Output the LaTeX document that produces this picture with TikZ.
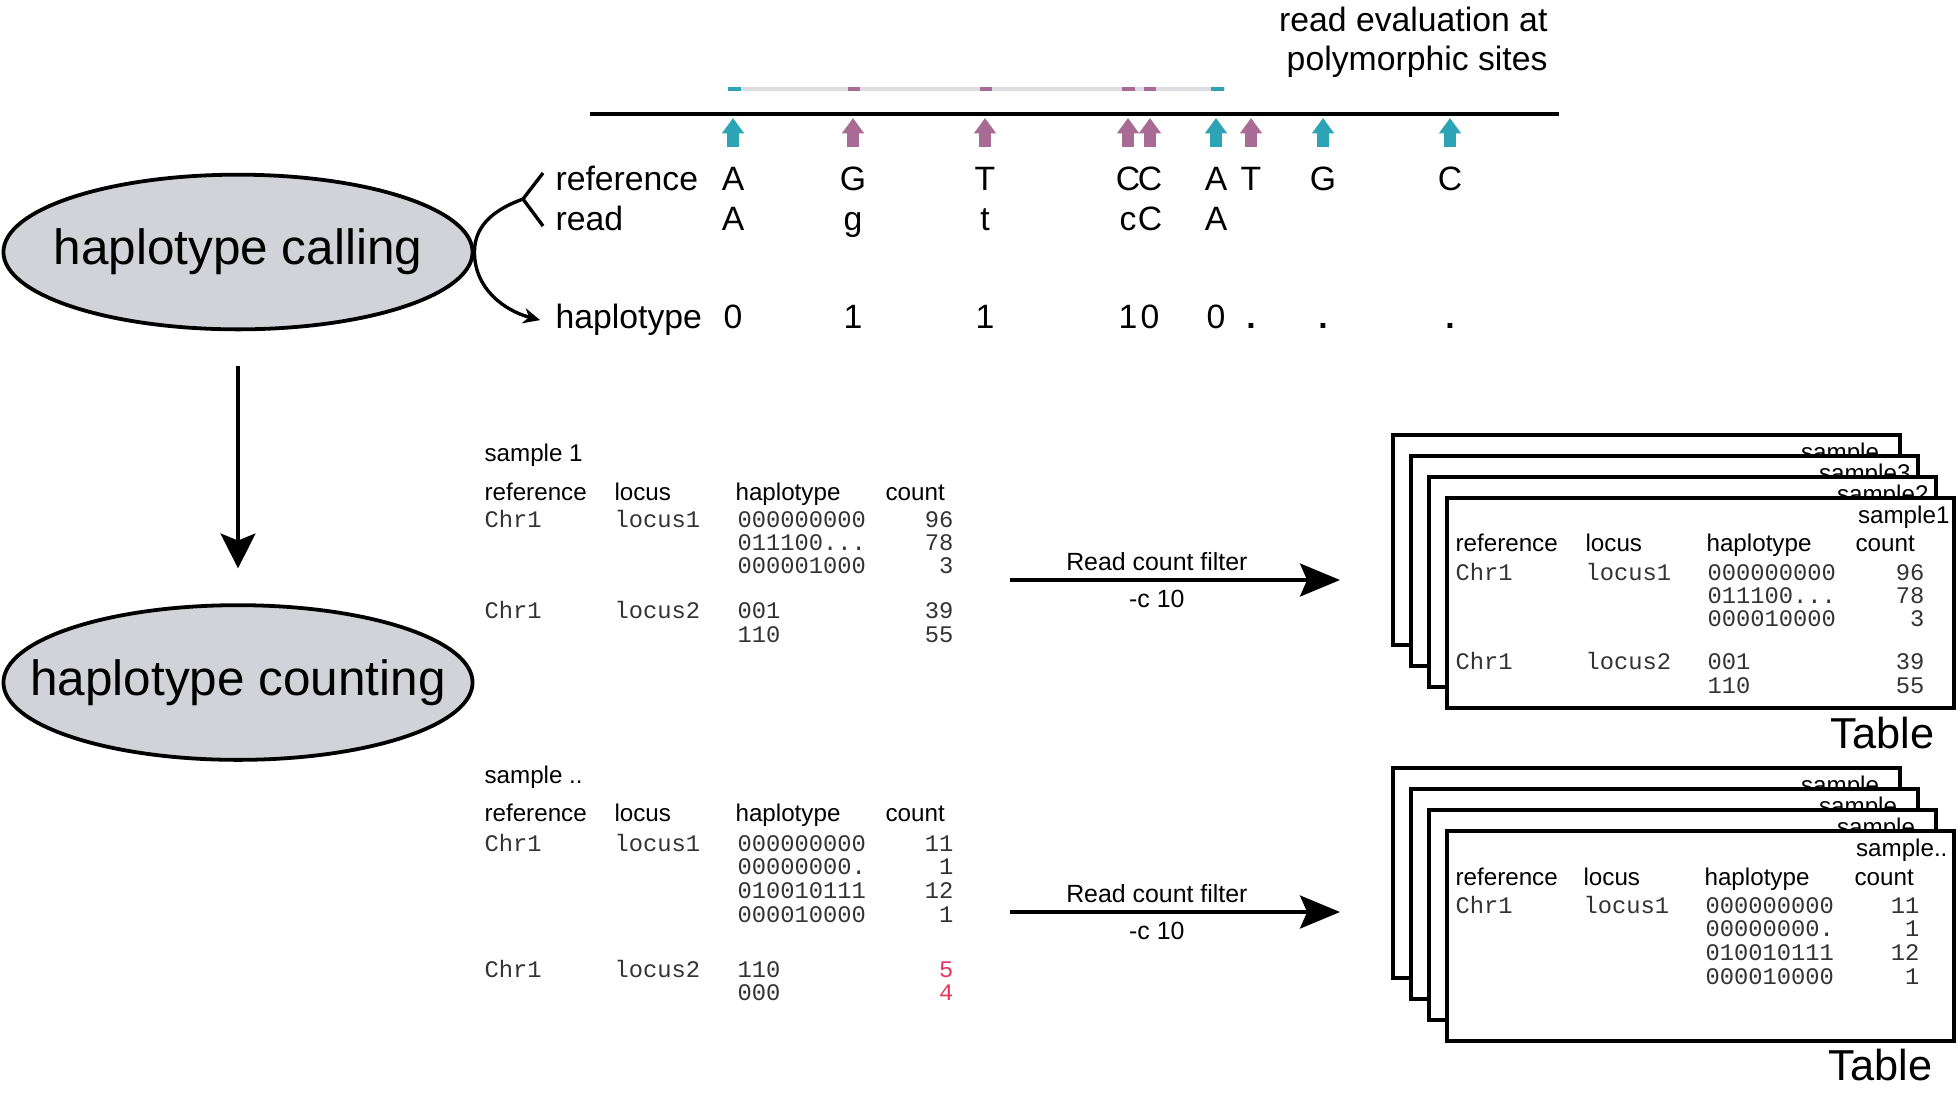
\documentclass[tikz,border=0pt]{standalone}
\usepackage{fontspec}
\setmainfont{Liberation Sans}
\setmonofont{Liberation Mono}
\usepackage{xcolor}
\usepackage{tikz}
\usetikzlibrary{arrows.meta,positioning,shapes.geometric}
\definecolor{ovalc}{HTML}{D2D3D8}
\definecolor{tealc}{HTML}{2DA3B6}
\definecolor{mauvec}{HTML}{A86C94}
\definecolor{readc}{HTML}{DCDBE2}
\definecolor{lowc}{HTML}{E8355E}
\tikzset{
  stepnode/.style={ellipse, draw=black, fill=ovalc, line width=1.35pt, inner sep=0pt,
    minimum width=166.8pt, minimum height=55pt},
  steptext/.style={inner sep=0pt, font=\fontsize{17.6}{20}\selectfont},
  rowlabel/.style={inner sep=0pt, anchor=base west, font=\fontsize{12}{14}\selectfont},
  basetext/.style={inner sep=0pt, anchor=base, font=\fontsize{12}{14}\selectfont},
  headtext/.style={inner sep=0pt, anchor=base west, font=\fontsize{8.6}{10}\selectfont},
  tagtext/.style={inner sep=0pt, anchor=base east, font=\fontsize{8.6}{10}\selectfont},
  monocol/.style={inner sep=0pt, anchor=base west, text width=50pt, align=left,
    text=black!80, font=\fontsize{8.45}{8.33}\selectfont\ttfamily},
  countcol/.style={monocol, anchor=base east, text width=30pt, align=right},
  sheetnode/.style={rectangle, draw=black, fill=white, line width=1.4pt, inner sep=0pt,
    minimum width=180.3pt, minimum height=74.4pt},
  bigtext/.style={inner sep=0pt, anchor=base east, font=\fontsize{15.4}{18}\selectfont},
  filtertext/.style={inner sep=0pt, font=\fontsize{8.85}{10}\selectfont},
  sitearrow/.style={-{Triangle[length=5.5pt, width=7.6pt]}, line width=4pt},
  flowedge/.style={-{Stealth[length=12.4pt, width=12.4pt, inset=2.5pt]}, line width=1.3pt},
  filteredge/.style={-{Stealth[length=14.2pt, width=11.7pt, inset=2.5pt]}, line width=1.4pt},
  forkedge/.style={line width=1.2pt},
  bendedge/.style={-{Stealth[length=6pt, width=5.5pt]}, line width=1.2pt},
}
\begin{document}
\begin{tikzpicture}[x=0.0125cm, y=-0.0125cm]
  \useasboundingbox (0,0) rectangle (1960,1098);

  % steps
  \node[stepnode, label={[steptext]center:haplotype calling}] (calling) at (238,252) {};
  \node[stepnode, label={[steptext]center:haplotype counting}] (counting) at (238,682.5) {};
  \draw[flowedge] ([yshift=-12.2pt]calling.south) -- ([yshift=12.4pt]counting.north);

  % read evaluation
  \node[inner sep=0pt, anchor=base east, align=right, font=\fontsize{12}{13.8}\selectfont]
    (evaltitle) at (1548,70) {read evaluation at\\polymorphic sites};
  \draw[line width=1.5pt] (590,114) -- (1559,114);
  \draw[readc, line width=1.4pt] (729,89) -- (1225,89);
  \draw[tealc, line width=1.4pt] (728,89) -- (741,89);
  \draw[mauvec, line width=1.4pt] (848,89) -- (860,89);
  \draw[mauvec, line width=1.4pt] (980,89) -- (992,89);
  \draw[mauvec, line width=1.4pt] (1122,89) -- (1135,89);
  \draw[mauvec, line width=1.4pt] (1144,89) -- (1156,89);
  \draw[tealc, line width=1.4pt] (1211,89) -- (1224,89);

  \draw[sitearrow, tealc] (733,147) -- (733,118);
  \draw[sitearrow, mauvec] (853,147) -- (853,118);
  \draw[sitearrow, mauvec] (985,147) -- (985,118);
  \draw[sitearrow, mauvec] (1128,147) -- (1128,118);
  \draw[sitearrow, mauvec] (1150,147) -- (1150,118);
  \draw[sitearrow, tealc] (1216,147) -- (1216,118);
  \draw[sitearrow, mauvec] (1251,147) -- (1251,118);
  \draw[sitearrow, tealc] (1323,147) -- (1323,118);
  \draw[sitearrow, tealc] (1450,147) -- (1450,118);

  \node[rowlabel] (lref) at (555,190) {reference};
  \node[rowlabel] (lread) at (555,230) {read};
  \node[rowlabel] (lhap) at (555,328) {haplotype};

  \node[basetext] (r1) at (733,190) {A};
  \node[basetext] (r2) at (853,190) {G};
  \node[basetext] (r3) at (985,190) {T};
  \node[basetext] (r4) at (1128,190) {C};
  \node[basetext] (r5) at (1150,190) {C};
  \node[basetext] (r6) at (1216,190) {A};
  \node[basetext] (r7) at (1251,190) {T};
  \node[basetext] (r8) at (1323,190) {G};
  \node[basetext] (r9) at (1450,190) {C};

  \node[basetext] (q1) at (733,230) {A};
  \node[basetext] (q2) at (853,230) {g};
  \node[basetext] (q3) at (985,230) {t};
  \node[basetext] (q4) at (1128,230) {c};
  \node[basetext] (q5) at (1150,230) {C};
  \node[basetext] (q6) at (1216,230) {A};

  \node[basetext] (h1) at (733,328) {0};
  \node[basetext] (h2) at (853,328) {1};
  \node[basetext] (h3) at (985,328) {1};
  \node[basetext] (h4) at (1128,328) {1};
  \node[basetext] (h5) at (1150,328) {0};
  \node[basetext] (h6) at (1216,328) {0};
  \node[basetext] (h7) at (1251,328) {\textbf{.}};
  \node[basetext] (h8) at (1323,328) {\textbf{.}};
  \node[basetext] (h9) at (1450,328) {\textbf{.}};

  \coordinate (fork) at (523,199);
  \coordinate (forkup) at (543,173);
  \coordinate (forkdn) at (543,226);
  \draw[forkedge] (forkup) -- (fork) -- (forkdn);
  \draw[bendedge] (fork) to[out=200, in=90] (calling.east)
    to[out=-90, in=165] ([xshift=-5.3pt, yshift=-0.3pt]lhap.west);

  % counts per sample
  \node[headtext] (m1name) at (484,461) {sample 1};
  \node[headtext] (m1ref) at (484,500) {reference};
  \node[headtext] (m1loc) at (614,500) {locus};
  \node[headtext] (m1hap) at (735,500) {haplotype};
  \node[headtext] (m1cnt) at (885,500) {count};
  \node[monocol] (m1refs) at (484,527) {Chr1\\[24.3pt]Chr1};
  \node[monocol] (m1locs) at (614,527) {locus1\\[24.3pt]locus2};
  \node[monocol] (m1haps) at (737,527) {000000000\\011100...\\000001000\\[7.6pt]001\\110};
  \node[countcol] (m1cnts) at (954,527) {96\\78\\3\\[7.6pt]39\\55};

  \node[headtext] (m2name) at (484,783) {sample ..};
  \node[headtext] (m2ref) at (484,821) {reference};
  \node[headtext] (m2loc) at (614,821) {locus};
  \node[headtext] (m2hap) at (735,821) {haplotype};
  \node[headtext] (m2cnt) at (885,821) {count};
  \node[monocol, font=\fontsize{8.45}{8.5}\selectfont\ttfamily] (m2refs) at (484,851) {Chr1\\[36.5pt]Chr1};
  \node[monocol, font=\fontsize{8.45}{8.5}\selectfont\ttfamily] (m2locs) at (614,851) {locus1\\[36.5pt]locus2};
  \node[monocol, font=\fontsize{8.45}{8.5}\selectfont\ttfamily] (m2haps) at (737,851)
    {000000000\\00000000.\\010010111\\000010000\\[10.8pt]110\\000};
  \node[countcol, font=\fontsize{8.45}{8.5}\selectfont\ttfamily] (m2cnts) at (954,851)
    {11\\1\\12\\1\\[10.8pt]\textcolor{lowc}{5}\\\textcolor{lowc}{4}};

  % filter
  \coordinate (f1s) at (1010,580);
  \coordinate (f1e) at (1340,580);
  \draw[filteredge] (f1s) -- (f1e)
    node[filtertext, pos=0.445, above=2.6pt] {Read count filter}
    node[filtertext, pos=0.445, below=2.8pt] {-c 10};
  \coordinate (f2s) at (1010,912);
  \coordinate (f2e) at (1340,912);
  \draw[filteredge] (f2s) -- (f2e)
    node[filtertext, pos=0.445, above=2.6pt] {Read count filter}
    node[filtertext, pos=0.445, below=2.8pt] {-c 10};

  % tables, first stack
  \node[sheetnode] (u1) at (1646.5,540) {};
  \node[tagtext] (u1tag) at (1893,460) {sample..};
  \node[sheetnode] (u2) at (1664.5,561) {};
  \node[tagtext] (u2tag) at (1911,481) {sample3};
  \node[sheetnode] (u3) at (1682.5,582) {};
  \node[tagtext] (u3tag) at (1929,502) {sample2};
  \node[sheetnode] (u4) at (1700.5,603) {};
  \node[tagtext] (u4tag) at (1950,523) {sample1};
  \node[headtext] (u4ref) at (1455,551) {reference};
  \node[headtext] (u4loc) at (1585,551) {locus};
  \node[headtext] (u4hap) at (1706,551) {haplotype};
  \node[headtext] (u4cnt) at (1855,551) {count};
  \node[monocol] (u4refs) at (1455,580) {Chr1\\[23.6pt]Chr1};
  \node[monocol] (u4locs) at (1585,580) {locus1\\[23.6pt]locus2};
  \node[monocol] (u4haps) at (1707,580) {000000000\\011100...\\000010000\\[6.9pt]001\\110};
  \node[countcol] (u4cnts) at (1925,580) {96\\78\\3\\[6.9pt]39\\55};
  \node[bigtext] (utitle) at (1935,748) {Table};

  % tables, second stack
  \node[sheetnode] (w1) at (1646.5,873) {};
  \node[tagtext] (w1tag) at (1893,793) {sample..};
  \node[sheetnode] (w2) at (1664.5,894) {};
  \node[tagtext] (w2tag) at (1911,814) {sample..};
  \node[sheetnode] (w3) at (1682.5,915) {};
  \node[tagtext] (w3tag) at (1929,835) {sample..};
  \node[sheetnode] (w4) at (1700.5,936) {};
  \node[tagtext] (w4tag) at (1948,856) {sample..};
  \node[headtext] (w4ref) at (1455,885) {reference};
  \node[headtext] (w4loc) at (1583,885) {locus};
  \node[headtext] (w4hap) at (1704,885) {haplotype};
  \node[headtext] (w4cnt) at (1854,885) {count};
  \node[monocol, font=\fontsize{8.45}{8.5}\selectfont\ttfamily] (w4refs) at (1455,913) {Chr1};
  \node[monocol, font=\fontsize{8.45}{8.5}\selectfont\ttfamily] (w4locs) at (1583,913) {locus1};
  \node[monocol, font=\fontsize{8.45}{8.5}\selectfont\ttfamily] (w4haps) at (1705,913)
    {000000000\\00000000.\\010010111\\000010000};
  \node[countcol, font=\fontsize{8.45}{8.5}\selectfont\ttfamily] (w4cnts) at (1920,913) {11\\1\\12\\1};
  \node[bigtext] (wtitle) at (1933,1080) {Table};
\end{tikzpicture}
\end{document}
